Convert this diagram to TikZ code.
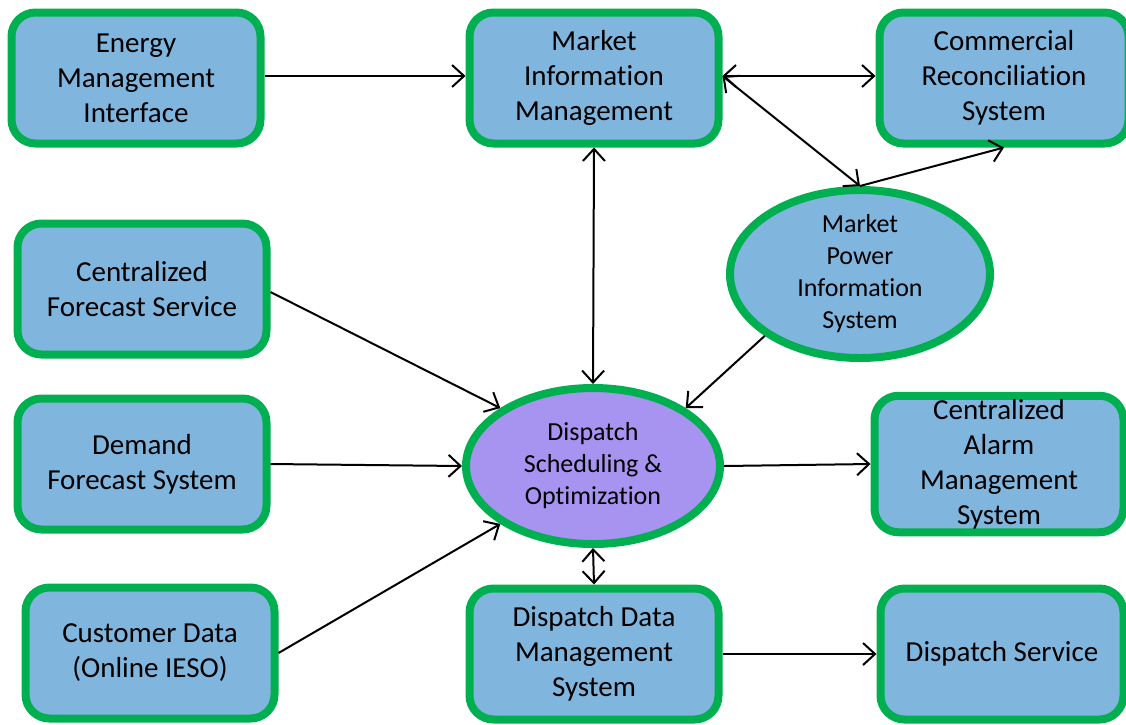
\documentclass[tikz,border=0pt]{standalone}
\usepackage{fontspec}
\setmainfont{Carlito}[RawFeature={-liga;-clig;-dlig}]
\usetikzlibrary{arrows.meta,shapes.geometric}
\definecolor{boxblue}{RGB}{128,181,222}
\definecolor{boxgreen}{RGB}{0,176,80}
\definecolor{dsopurple}{RGB}{166,148,240}
\tikzset{
  >={Straight Barb[length=12pt,width=22pt,line width=2pt]},
  every path/.style={line width=2pt},
  component/.style={
    draw=boxgreen, fill=boxblue, line width=8pt, rounded corners=24pt,
    minimum width=249pt, minimum height=131pt, align=center,
    font=\fontsize{29}{35}\selectfont
  },
  oval/.style={
    ellipse, draw=boxgreen, fill=boxblue, line width=8pt, inner sep=0pt,
    align=center, font=\fontsize{26}{32}\selectfont
  }
}
\begin{document}
\begin{tikzpicture}[x=1pt,y=-1pt]
  \useasboundingbox (0,0) rectangle (1126,724);

  \node[component] (emi) at (136,78) {Energy\\Management\\Interface};
  \node[component] (mim) at (594,78) {Market\\Information\\Management};
  \node[component] (crs) at (1004,78) {Commercial\\Reconciliation\\System};
  \node[component] (cfs) at (142,289) {Centralized\\Forecast Service};
  \node[component] (dfs) at (142,464) {Demand\\Forecast System};
  \node[component] (cd) at (150,653) {Customer Data\\(Online IESO)};
  \node[component] (ddms) at (594,654) {Dispatch Data\\Management\\System};
  \node[component,minimum width=243pt] (ds) at (1002,654) {Dispatch Service};
  \node[component,minimum width=249pt] (cams) at (999,464) {Centralized\\Alarm\\Management\\System};

  \node[oval,minimum width=260pt,minimum height=168pt] (mpis) at (860,274) {Market\\Power\\Information\\System};
  \node[oval,fill=dsopurple,minimum width=254pt,minimum height=156pt] (dso) at (593,466) {Dispatch\\Scheduling \&\\Optimization};

  \draw[->] (emi.east |- 0,76) -- (mim.west |- 0,76);
  \draw[<->] (mim.east |- 0,76) -- (crs.west |- 0,76);
  \draw[<->] (mim.east |- 0,76) -- (mpis.north);
  \draw[->] (mpis.north) -- (crs.south);
  \draw[<->] (mim.south) -- (dso.north);
  \draw[->] (cfs.east |- 0,292) -- (dso.148);
  \draw[->] (dfs.east |- 0,464) -- (dso.west);
  \draw[->] (cd.east |- 0,653) -- (dso.212);
  \draw[->] (mpis.213) -- (dso.32);
  \draw[->] (dso.east) -- (cams.west);
  \draw[<->] (dso.south) -- (ddms.north);
  \draw[->] (ddms.east) -- (ds.west);
\end{tikzpicture}
\end{document}
